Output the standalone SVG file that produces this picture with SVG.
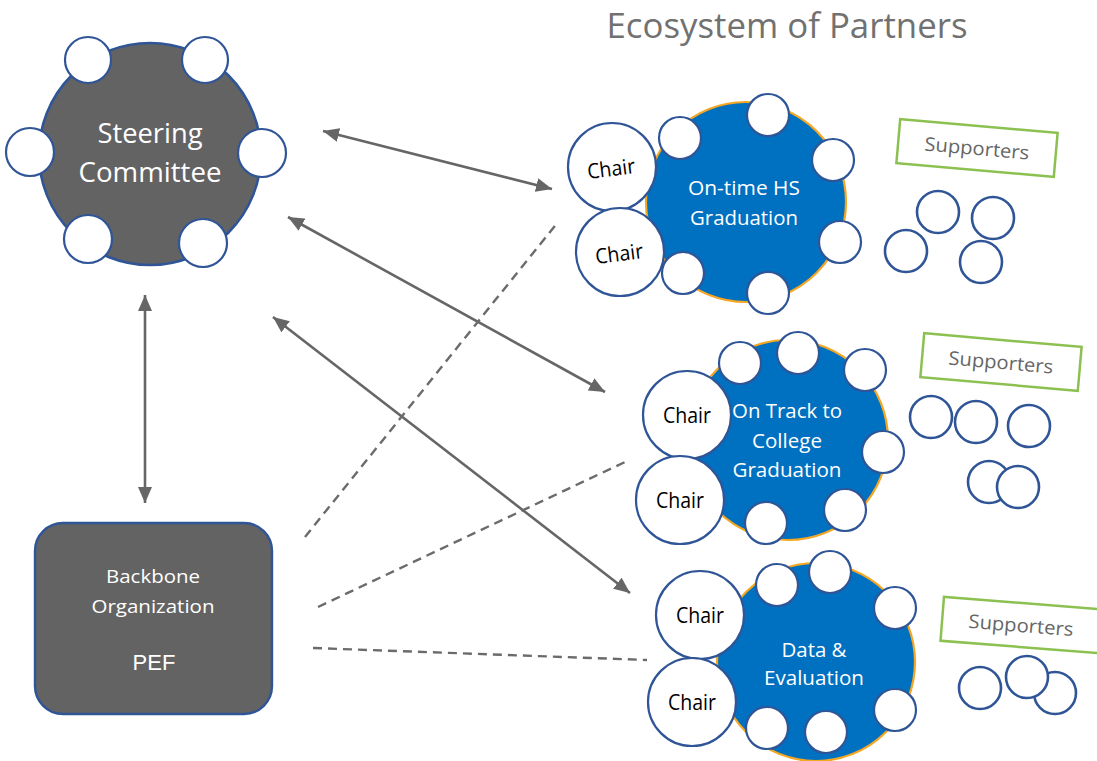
<svg xmlns="http://www.w3.org/2000/svg" width="1097" height="761" viewBox="0 0 1097 761">
<defs>
<style>
.main{fill:#0070C0;stroke:#F5A623;stroke-width:2.2}
.sat{fill:#fff;stroke:#2F5597;stroke-width:2.2}
.chair{fill:#fff;stroke:#2F5597;stroke-width:2.2}
.sup{fill:#fff;stroke:#2F5597;stroke-width:2.6}
.supbox{fill:#fff;stroke:#8CC152;stroke-width:2.5}
.wt{fill:#fff;font-family:"Open Sans","DejaVu Sans",sans-serif;text-anchor:middle}
.bt{fill:#000;font-family:"Open Sans","DejaVu Sans",sans-serif;text-anchor:middle;font-size:21px}
.gt{fill:#666;font-family:"Open Sans","DejaVu Sans",sans-serif;text-anchor:middle;font-size:19px}
.arr{stroke:#666;stroke-width:2.6;fill:none;marker-start:url(#ah);marker-end:url(#ah)}
.dash{stroke:#6b6b6b;stroke-width:2.4;fill:none;stroke-dasharray:9 6}
</style>
<marker id="ah" markerUnits="userSpaceOnUse" markerWidth="16" markerHeight="14" refX="16" refY="7" orient="auto-start-reverse">
<path d="M0,0 L16,7 L0,14 z" fill="#666"/>
</marker>
</defs>
<rect width="1097" height="761" fill="#fff"/>

<text x="787" y="38" fill="#717171" font-family="'Open Sans','DejaVu Sans',sans-serif" font-size="35" text-anchor="middle" textLength="361" lengthAdjust="spacingAndGlyphs">Ecosystem of Partners</text>

<g id="connectors">
<line class="arr" x1="323" y1="131" x2="552" y2="189"/>
<line class="arr" x1="288" y1="217" x2="605" y2="392"/>
<line class="arr" x1="273" y1="317" x2="630" y2="593"/>
<line class="arr" x1="145" y1="295" x2="145" y2="503"/>
<line class="dash" x1="305" y1="537" x2="558" y2="222"/>
<line class="dash" x1="318" y1="607" x2="625" y2="462"/>
<line class="dash" x1="313" y1="648" x2="647" y2="660"/>
</g>

<g id="steering">
<circle cx="150" cy="154" r="111" fill="#636363" stroke="#2F5597" stroke-width="2.6"/>
<circle class="sat" cx="88" cy="60" r="23"/>
<circle class="sat" cx="205" cy="60" r="23"/>
<circle class="sat" cx="30" cy="152" r="24"/>
<circle class="sat" cx="262" cy="153" r="24"/>
<circle class="sat" cx="88" cy="239" r="24"/>
<circle class="sat" cx="203" cy="243" r="24"/>
<text class="wt" x="150" y="143" font-size="27" fill="#f2f2f2" textLength="105" lengthAdjust="spacingAndGlyphs">Steering</text>
<text class="wt" x="150" y="182" font-size="27" fill="#f2f2f2" textLength="143" lengthAdjust="spacingAndGlyphs">Committee</text>
</g>

<g id="backbone">
<rect x="35" y="523" width="237" height="191" rx="28" fill="#636363" stroke="#2F5597" stroke-width="2.4"/>
<text class="wt" x="153" y="583" font-size="18.5" textLength="94" lengthAdjust="spacingAndGlyphs">Backbone</text>
<text class="wt" x="153" y="613" font-size="18.5" textLength="123" lengthAdjust="spacingAndGlyphs">Organization</text>
<text x="154" y="670" fill="#fff" font-family="'Liberation Sans',Arial,sans-serif" font-size="22" text-anchor="middle">PEF</text>
</g>

<g id="hs-graduation">
<circle class="main" cx="746" cy="202" r="100"/>
<circle class="sat" cx="680" cy="138" r="21"/>
<circle class="sat" cx="768" cy="115" r="21"/>
<circle class="sat" cx="833" cy="160" r="21"/>
<circle class="sat" cx="840" cy="242" r="21"/>
<circle class="sat" cx="768" cy="293" r="21"/>
<circle class="sat" cx="683" cy="273" r="21"/>
<circle class="chair" cx="612" cy="167" r="44"/>
<circle class="chair" cx="620" cy="252" r="44"/>
<text class="bt" transform="translate(612,176) rotate(-7)" textLength="48" lengthAdjust="spacingAndGlyphs">Chair</text>
<text class="bt" transform="translate(620,261) rotate(-7)" textLength="48" lengthAdjust="spacingAndGlyphs">Chair</text>
<text class="wt" x="744" y="195" font-size="20" textLength="112" lengthAdjust="spacingAndGlyphs">On-time HS</text>
<text class="wt" x="744" y="225" font-size="20" textLength="108" lengthAdjust="spacingAndGlyphs">Graduation</text>
</g>

<g id="supporters-1">
<g transform="translate(977,148) rotate(5)">
<rect class="supbox" x="-79" y="-22" width="158" height="44"/>
<text class="gt" x="0" y="7" textLength="105" lengthAdjust="spacingAndGlyphs">Supporters</text>
</g>
<circle class="sup" cx="938" cy="212" r="21"/>
<circle class="sup" cx="993" cy="218" r="21"/>
<circle class="sup" cx="906" cy="251" r="21"/>
<circle class="sup" cx="981" cy="262" r="21"/>
</g>

<g id="college-graduation">
<circle class="main" cx="788" cy="440" r="100"/>
<circle class="sat" cx="740" cy="363" r="21"/>
<circle class="sat" cx="798" cy="353" r="21"/>
<circle class="sat" cx="865" cy="370" r="21"/>
<circle class="sat" cx="883" cy="452" r="21"/>
<circle class="sat" cx="845" cy="510" r="21"/>
<circle class="sat" cx="766" cy="523" r="21"/>
<circle class="chair" cx="687" cy="415" r="44"/>
<circle class="chair" cx="680" cy="500" r="44"/>
<text class="bt" x="687" y="423" textLength="48" lengthAdjust="spacingAndGlyphs">Chair</text>
<text class="bt" x="680" y="508" textLength="48" lengthAdjust="spacingAndGlyphs">Chair</text>
<text class="wt" x="787" y="418" font-size="20" textLength="110" lengthAdjust="spacingAndGlyphs">On Track to</text>
<text class="wt" x="787" y="448" font-size="20" textLength="70" lengthAdjust="spacingAndGlyphs">College</text>
<text class="wt" x="787" y="477" font-size="20" textLength="109" lengthAdjust="spacingAndGlyphs">Graduation</text>
</g>

<g id="supporters-2">
<g transform="translate(1001,362) rotate(5)">
<rect class="supbox" x="-79" y="-22" width="158" height="44"/>
<text class="gt" x="0" y="7" textLength="105" lengthAdjust="spacingAndGlyphs">Supporters</text>
</g>
<circle class="sup" cx="931" cy="417" r="21"/>
<circle class="sup" cx="976" cy="422" r="21"/>
<circle class="sup" cx="1029" cy="426" r="21"/>
<circle class="sup" cx="989" cy="482" r="21"/>
<circle class="sup" cx="1018" cy="487" r="21"/>
</g>

<g id="data-evaluation">
<circle class="main" cx="816" cy="662" r="99"/>
<circle class="sat" cx="777" cy="585" r="21"/>
<circle class="sat" cx="830" cy="572" r="21"/>
<circle class="sat" cx="895" cy="608" r="21"/>
<circle class="sat" cx="895" cy="710" r="21"/>
<circle class="sat" cx="826" cy="732" r="21"/>
<circle class="sat" cx="767" cy="728" r="21"/>
<circle class="chair" cx="700" cy="615" r="44"/>
<circle class="chair" cx="692" cy="702" r="44"/>
<text class="bt" x="700" y="623" textLength="48" lengthAdjust="spacingAndGlyphs">Chair</text>
<text class="bt" x="692" y="710" textLength="48" lengthAdjust="spacingAndGlyphs">Chair</text>
<text class="wt" x="814" y="657" font-size="20" textLength="65" lengthAdjust="spacingAndGlyphs">Data &amp;</text>
<text class="wt" x="814" y="685" font-size="20" textLength="100" lengthAdjust="spacingAndGlyphs">Evaluation</text>
</g>

<g id="supporters-3">
<g transform="translate(1021,625) rotate(4.5)">
<rect class="supbox" x="-79" y="-22" width="158" height="44"/>
<text class="gt" x="0" y="7" textLength="105" lengthAdjust="spacingAndGlyphs">Supporters</text>
</g>
<circle class="sup" cx="980" cy="688" r="21"/>
<circle class="sup" cx="1055" cy="693" r="21"/>
<circle class="sup" cx="1027" cy="677" r="21"/>
</g>
</svg>
